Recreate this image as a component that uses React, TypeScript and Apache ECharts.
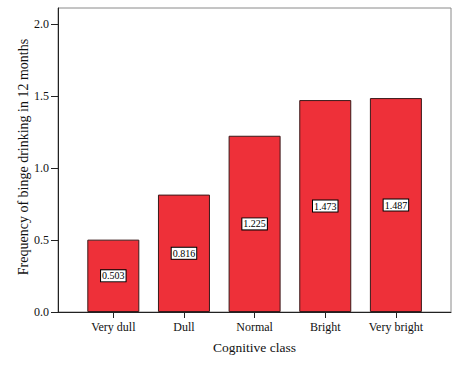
import React, { useEffect, useRef } from "react";
import * as echarts from "echarts";

const categories = ["Very dull", "Dull", "Normal", "Bright", "Very bright"];
const values = [0.503, 0.816, 1.225, 1.473, 1.487];
const yTicks = [0, 0.5, 1.0, 1.5, 2.0];

const FONT = "'Liberation Serif', 'DejaVu Serif', serif";

export default function App() {
  const ref = useRef<HTMLDivElement>(null);
  useEffect(() => {
    if (!ref.current) return;
    const chart = echarts.init(ref.current, undefined, { renderer: "svg" });
    chart.setOption({
      animation: false,
      backgroundColor: "#ffffff",
      grid: {
        left: 58,
        right: 9,
        top: 8,
        bottom: 56,
        show: true,
        borderColor: "#8a8a8a",
        borderWidth: 1,
        backgroundColor: "transparent",
      },
      xAxis: {
        type: "value",
        min: -0.783,
        max: 4.78,
        name: "Cognitive class",
        nameLocation: "middle",
        nameGap: 28,
        nameMoveOverlap: false,
        nameTextStyle: { fontFamily: FONT, fontSize: 13.5, color: "#111" },
        axisLine: { show: true, onZero: false, lineStyle: { color: "#222", width: 1 } },
        axisTick: {
          show: true,
          length: 6,
          lineStyle: { color: "#222" },
          customValues: categories.map((_, i) => i),
        },
        axisLabel: {
          customValues: categories.map((_, i) => i),
          formatter: (v: number) => categories[Math.round(v)] ?? "",
          fontFamily: FONT,
          fontSize: 12,
          color: "#111",
          margin: 9,
        },
        splitLine: { show: false },
      },
      yAxis: {
        type: "value",
        min: 0,
        max: 2.113,
        name: "Frequency of binge drinking in 12 months",
        nameLocation: "middle",
        nameGap: 28,
        nameMoveOverlap: false,
        nameTextStyle: { fontFamily: FONT, fontSize: 14, color: "#111", padding: [0, 0, 0, 6] },
        axisLine: { show: true, onZero: false, lineStyle: { color: "#222", width: 1 } },
        axisTick: {
          show: true,
          length: 7,
          lineStyle: { color: "#222" },
          customValues: yTicks,
        },
        axisLabel: {
          customValues: yTicks,
          formatter: (v: number) => v.toFixed(1),
          fontFamily: FONT,
          fontSize: 12,
          color: "#111",
          margin: 9,
        },
        splitLine: { show: false },
      },
      series: [
        {
          type: "bar",
          barWidth: 52,
          data: values.map((v, i) => [i, v]),
          itemStyle: { color: "#EE3039", borderColor: "#3a1a1a", borderWidth: 1 },
          label: {
            show: true,
            position: "inside",
            formatter: (p: any) => p.value[1].toFixed(3),
            fontFamily: FONT,
            fontSize: 10,
            color: "#000",
            backgroundColor: "#ffffff",
            borderColor: "#000",
            borderWidth: 1,
            padding: [1, 1, 0, 1],
          },
        },
      ],
    });
    return () => chart.dispose();
  }, []);
  return <div ref={ref} style={{ width: 460, height: 368, position: "absolute", left: 0, top: 0 }} />;
}
